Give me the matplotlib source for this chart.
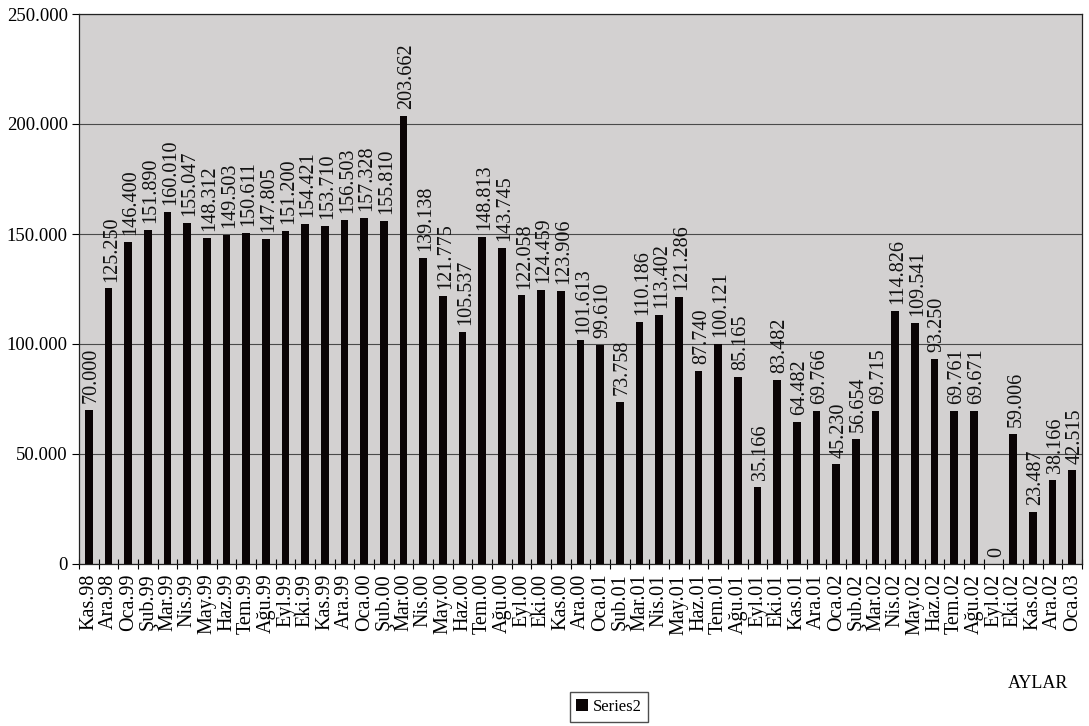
import matplotlib
matplotlib.use("Agg")
import matplotlib.pyplot as plt
from matplotlib.ticker import FuncFormatter, FixedLocator
from matplotlib.patches import Patch

plt.rcParams['font.family'] = ['Liberation Serif', 'DejaVu Serif']

months = [
    "Kas.98", "Ara.98",
    "Oca.99", "Şub.99", "Mar.99", "Nis.99", "May.99", "Haz.99",
    "Tem.99", "Ağu.99", "Eyl.99", "Eki.99", "Kas.99", "Ara.99",
    "Oca.00", "Şub.00", "Mar.00", "Nis.00", "May.00", "Haz.00",
    "Tem.00", "Ağu.00", "Eyl.00", "Eki.00", "Kas.00", "Ara.00",
    "Oca.01", "Şub.01", "Mar.01", "Nis.01", "May.01", "Haz.01",
    "Tem.01", "Ağu.01", "Eyl.01", "Eki.01", "Kas.01", "Ara.01",
    "Oca.02", "Şub.02", "Mar.02", "Nis.02", "May.02", "Haz.02",
    "Tem.02", "Ağu.02", "Eyl.02", "Eki.02", "Kas.02", "Ara.02",
    "Oca.03",
]

series2 = [
    70000, 125250,
    146400, 151890, 160010, 155047, 148312, 149503,
    150611, 147805, 151200, 154421, 153710, 156503,
    157328, 155810, 203662, 139138, 121775, 105537,
    148813, 143745, 122058, 124459, 123906, 101613,
    99610, 73758, 110186, 113402, 121286, 87740,
    100121, 85165, 35166, 83482, 64482, 69766,
    45230, 56654, 69715, 114826, 109541, 93250,
    69761, 69671, 0, 59006, 23487, 38166,
    42515,
]

y_ticks = [0, 50000, 100000, 150000, 200000, 250000]


def tr_fmt(v, pos=None):
    v = int(round(v))
    return f"{v:,}".replace(",", ".")


W, H = 1089, 726
fig = plt.figure(figsize=(W / 100, H / 100), dpi=100)
fig.patch.set_facecolor("white")
ax = fig.add_axes([79 / W, (H - 564) / H, (1082 - 79) / W, (564 - 14) / H])
ax.set_facecolor("#d3d1d1")

x = list(range(len(months)))
ax.bar(x, series2, width=0.4, color="#0a0405", zorder=3, label="Series2")

for xi, v in zip(x, series2):
    ax.annotate(tr_fmt(v), (xi, v), xytext=(2, 5), textcoords="offset points",
                rotation=90, ha="center", va="bottom", fontsize=14.5,
                color="#111111", zorder=4)

ax.set_xlim(-0.5, len(months) - 0.5)
ax.set_ylim(0, 250000)
ax.set_yticks(y_ticks)
ax.yaxis.set_major_formatter(FuncFormatter(tr_fmt))
ax.grid(axis="y", color="#4a4a4a", linewidth=0.8, zorder=1)

ax.set_xticks(x)
ax.set_xticklabels(months, rotation=90, fontsize=14.5)
ax.tick_params(axis="x", which="major", length=0, pad=7)
ax.xaxis.set_minor_locator(FixedLocator([i - 0.5 for i in range(len(months) + 1)]))
ax.tick_params(axis="x", which="minor", length=7, direction="inout", width=0.8)
ax.tick_params(axis="y", length=5, width=0.8, labelsize=13.5, pad=3)

for s in ax.spines.values():
    s.set_color("#222222")
    s.set_linewidth(0.9)

fig.text(1068 / W, 1 - 684 / H, "AYLAR", ha="right", va="center", fontsize=13)

fig.legend(handles=[Patch(facecolor="#0a0405", label="Series2")],
           loc="center", bbox_to_anchor=(609 / W, 1 - 707 / H),
           fontsize=12, frameon=True, fancybox=False, edgecolor="#222222",
           handlelength=0.7, handleheight=0.7, handletextpad=0.3,
           borderpad=0.4)

fig.savefig("out.png", dpi=100)
